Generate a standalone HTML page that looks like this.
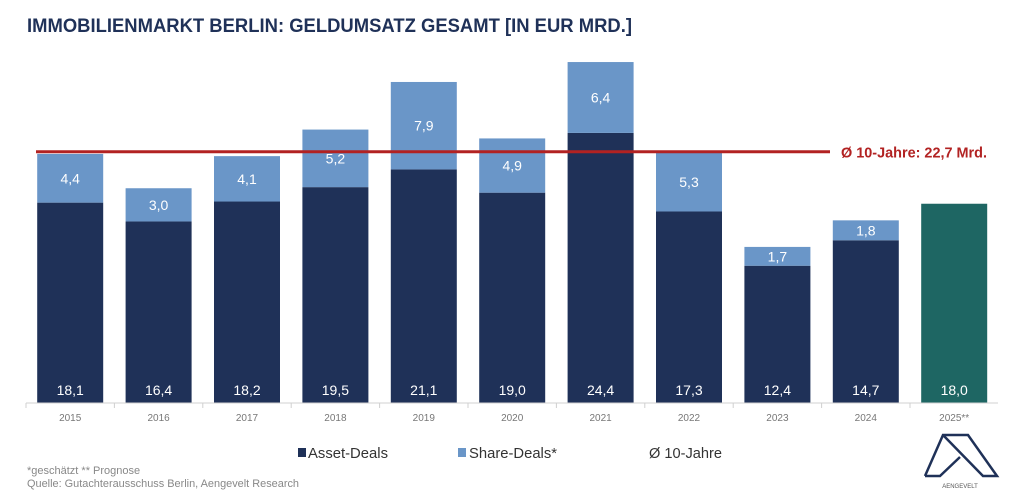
<!DOCTYPE html>
<html><head><meta charset="utf-8"><style>
html,body{margin:0;padding:0;background:#fff;width:1024px;height:495px;overflow:hidden;font-family:"Liberation Sans",sans-serif}
</style></head><body>
<svg width="1024" height="495" xmlns="http://www.w3.org/2000/svg">
<text x="27" y="32" font-size="19.5" font-weight="bold" fill="#1f3158" textLength="605" lengthAdjust="spacingAndGlyphs">IMMOBILIENMARKT BERLIN: GELDUMSATZ GESAMT [IN EUR MRD.]</text>
<g id="bars"></g>
<line x1="26" y1="403" x2="998" y2="403" stroke="#d0d0d0" stroke-width="1"/>
<g id="xt"></g>
<g id="avg"></g>
<g>
<rect x="298" y="448" width="8" height="9" fill="#1f3158"/>
<text x="308" y="458" font-size="14.5" fill="#333" textLength="80" lengthAdjust="spacingAndGlyphs">Asset-Deals</text>
<rect x="458" y="448" width="8" height="9" fill="#6a96c8"/>
<text x="469" y="458" font-size="14.5" fill="#333" textLength="88" lengthAdjust="spacingAndGlyphs">Share-Deals*</text>
<text x="649" y="458" font-size="14.5" fill="#333" textLength="73" lengthAdjust="spacingAndGlyphs">Ø 10-Jahre</text>
</g>
<text x="27" y="474" font-size="11" fill="#888">*geschätzt  ** Prognose</text>
<text x="27" y="487" font-size="11" fill="#888" textLength="272" lengthAdjust="spacingAndGlyphs">Quelle: Gutachterausschuss Berlin, Aengevelt Research</text>
<g fill="none" stroke="#1f3158" stroke-width="2.5" stroke-linejoin="miter">
<path d="M925 476 L943 435 L968 435 L997 476 L983 476 L943 435"/>
<path d="M925 476 L940 476 L960 457"/>
<text x="960" y="488" font-size="6" fill="#555" stroke="none" text-anchor="middle">AENGEVELT</text>
</g>
</svg>
<script>
const years=["2015","2016","2017","2018","2019","2020","2021","2022","2023","2024","2025**"];
const asset=[18.1,16.4,18.2,19.5,21.1,19.0,24.4,17.3,12.4,14.7,18.0];
const share=[4.4,3.0,4.1,5.2,7.9,4.9,6.4,5.3,1.7,1.8,0];
const average=22.7;
const NS="http://www.w3.org/2000/svg";
const base=403,k=11.07,left=26,step=88.4,bw=66;
const y=v=>base-v*k, cx=i=>left+step*(i+0.5);
const fmt=v=>v.toFixed(1).replace('.',',');
function mk(t,a,p){const e=document.createElementNS(NS,t);for(const q in a)e.setAttribute(q,a[q]);p.appendChild(e);return e;}
const bars=document.getElementById('bars'),xt=document.getElementById('xt');
years.forEach((yr,i)=>{
 const x=cx(i)-bw/2, last=i===years.length-1;
 const r=mk('rect',{x:x,y:y(asset[i]),width:bw,height:asset[i]*k,fill:last?'#1e6663':'#1f3158'},bars);
 
 
 const t=mk('text',{x:cx(i),y:base-8,'font-size':14,fill:'#fff','text-anchor':'middle'},bars);t.textContent=fmt(asset[i]);
 
 
 if(share[i]>0){
  const s=mk('rect',{x:x,y:y(asset[i]+share[i]),width:bw,height:share[i]*k,fill:'#6a96c8'},bars);
  
  
  const st=mk('text',{x:cx(i),y:y(asset[i]+share[i]/2)+5,'font-size':14,fill:'#fff','text-anchor':'middle'},bars);st.textContent=fmt(share[i]);
  
  
 }
 const tk=mk('line',{x1:left+step*i,y1:base,x2:left+step*i,y2:base+5,stroke:'#d0d0d0'},xt);
 
 
 const l=mk('text',{x:cx(i),y:421,'font-size':10,fill:'#777','text-anchor':'middle'},xt);l.textContent=yr;
 
 
});
const ag=document.getElementById('avg');
const al=mk('line',{x1:36,y1:y(average),x2:830,y2:y(average),stroke:'#b22222','stroke-width':3},ag);


const at=mk('text',{x:841,y:y(average)+6,'font-size':15,'font-weight':'bold',fill:'#b22222',textLength:146,lengthAdjust:'spacingAndGlyphs'},ag);
at.textContent='Ø 10-Jahre: '+fmt(average)+' Mrd.';


</script>
</body></html>
